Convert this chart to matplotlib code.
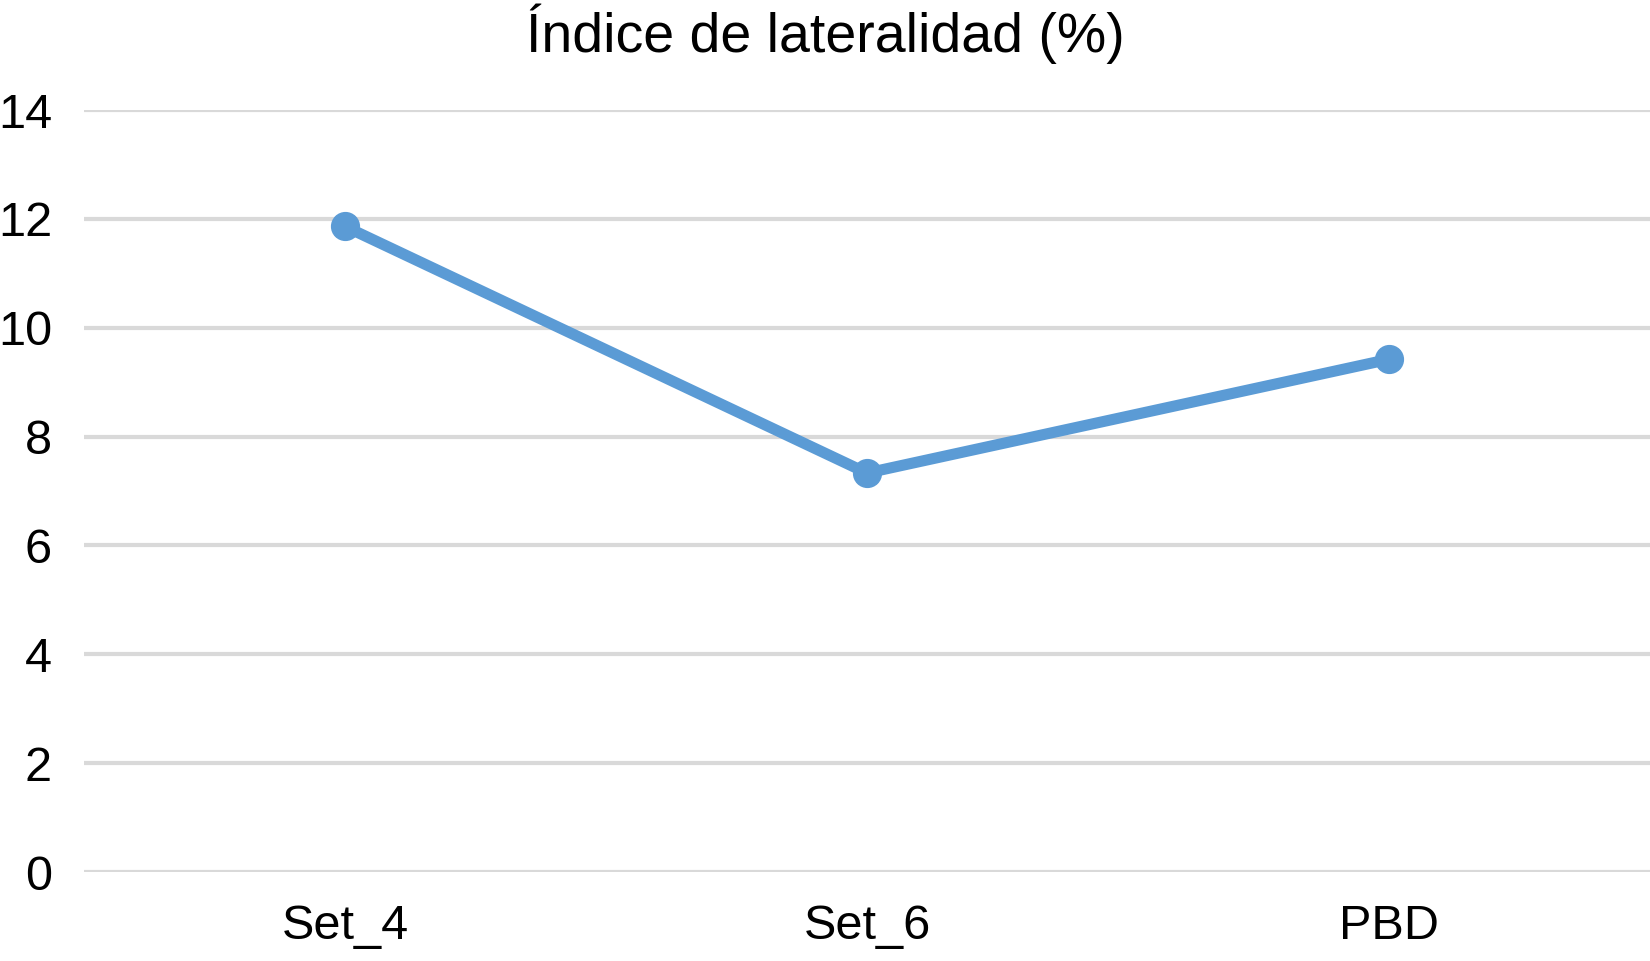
import matplotlib
matplotlib.use("Agg")
import matplotlib.pyplot as plt

categories = ["Set_4", "Set_6", "PBD"]
values = [11.86, 7.33, 9.42]
yticks = [0, 2, 4, 6, 8, 10, 12, 14]
title = "Índice de lateralidad (%)"

plt.rcParams['font.family'] = ['Liberation Sans', 'DejaVu Sans']

fig = plt.figure(figsize=(16.5, 9.61), dpi=100)
ax = fig.add_axes([84/1650, 1-872/961, 1-84/1650, (872-110)/961])

x = list(range(len(categories)))
ax.plot(x, values, color="#5B9BD5", linewidth=8, marker="o", markersize=20,
        solid_capstyle="round", zorder=3)

ax.set_xlim(-0.5, len(categories)-0.5)
ax.set_ylim(0, 14)
ax.set_yticks(yticks)
ax.set_yticklabels([str(t) for t in yticks])
ax.set_xticks(x)
ax.set_xticklabels(categories)
ax.yaxis.grid(True, color="#D9D9D9", linewidth=3)
ax.set_axisbelow(True)
for s in ax.spines.values():
    s.set_visible(False)
ax.tick_params(axis='both', length=0, labelsize=35, colors="black")
ax.tick_params(axis='y', pad=23)
ax.tick_params(axis='x', pad=23)

fig.text(0.5, 1-34/961, title, ha="center", va="center", fontsize=40)

fig.savefig("out.png", dpi=100)
